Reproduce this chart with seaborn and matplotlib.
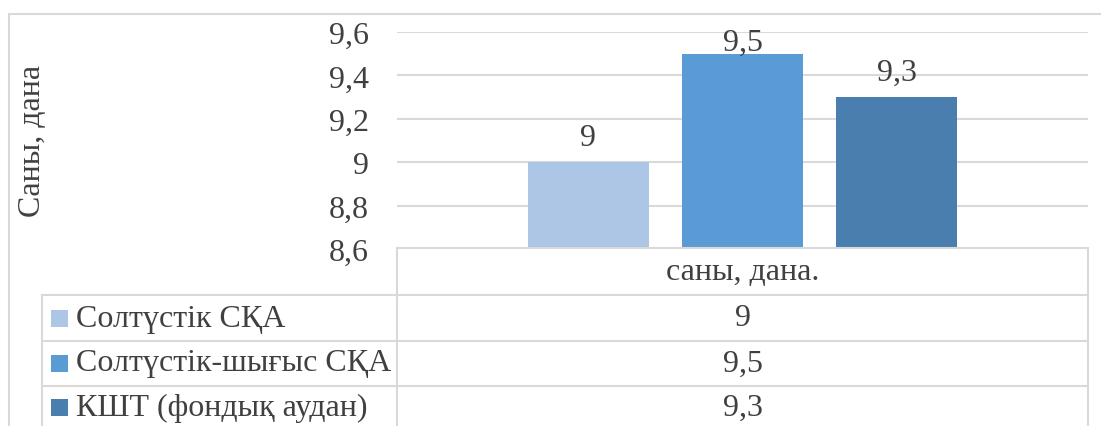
import matplotlib
matplotlib.use("Agg")
import matplotlib.pyplot as plt
from matplotlib.lines import Line2D
from matplotlib.patches import Rectangle
import matplotlib.transforms as mtransforms
import seaborn as sns
import pandas as pd

# ---- data ----
category = ["саны, дана."]
series = ["Солтүстік СҚА", "Солтүстік-шығыс СҚА", "КШТ (фондық аудан)"]
values = [9.0, 9.5, 9.3]
value_labels = ["9", "9,5", "9,3"]
yticks = [8.6, 8.8, 9.0, 9.2, 9.4, 9.6]
ytick_labels = ["8,6", "8,8", "9", "9,2", "9,4", "9,6"]
ylabel = "Саны, дана"
colors = ["#ADC6E5", "#5B9BD5", "#4A7EAF"]

W, H = 1101, 427
sns.set_theme(style="white")
plt.rcParams["font.family"] = ["Liberation Serif", "DejaVu Serif"]

fig = plt.figure(figsize=(W / 100, H / 100), dpi=100)

def fx(x):
    return x / W

def fy(y):
    return 1 - y / H

GRID = "#D9D9D9"
TXT = "#404040"
FS = 23

# main plot area
ax = fig.add_axes([fx(397), fy(250), fx(1088) - fx(397), fy(33) - fy(250)])
df = pd.DataFrame({"cat": category * len(series), "series": series, "value": values})
sns.barplot(data=df, x="cat", y="value", hue="series", palette=colors,
            width=0.67, gap=0.214, ax=ax, legend=False, saturation=1, linewidth=0)
ax.set_ylim(8.6, 9.6)
ax.set_xlim(-0.5, 0.5)
ax.set_yticks(yticks)
ax.set_yticklabels(ytick_labels, fontsize=FS, color=TXT)
ax.tick_params(axis="y", length=0, pad=20)
ax.set_xticks([])
ax.set_xlabel("")
ax.set_ylabel("")
for s in ax.spines.values():
    s.set_visible(False)
ax.yaxis.grid(True, color=GRID, linewidth=1.5)
ax.set_axisbelow(True)

# value labels: above bars, kept inside the chart area (like Excel)
fig.canvas.draw()
blend = mtransforms.blended_transform_factory(ax.transData, fig.transFigure)
for cont, lab in zip(ax.containers, value_labels):
    for p in cont.patches:
        top_disp = ax.transData.transform((0, p.get_height()))[1]
        top_px = H - top_disp  # pixel from top
        base_px = max(top_px - 17, 51)
        ax.text(p.get_x() + p.get_width() / 2, fy(base_px), lab, transform=blend,
                ha="center", va="baseline", fontsize=FS, color=TXT, clip_on=False)

# y label
fig.text(fx(33), fy(141), ylabel, rotation=90, ha="center", va="center",
         fontsize=FS, color=TXT)

# outer chart border
fig.add_artist(Rectangle((fx(9), fy(H + 5)), fx(W + 20) - fx(9), fy(15) - fy(H + 5),
                         transform=fig.transFigure, fill=False, edgecolor=GRID, linewidth=1.5))

def hline(y, x0, x1):
    fig.add_artist(Line2D([fx(x0), fx(x1)], [fy(y), fy(y)], transform=fig.transFigure,
                          color=GRID, linewidth=1.5))

def vline(x, y0, y1):
    fig.add_artist(Line2D([fx(x), fx(x)], [fy(y0), fy(y1)], transform=fig.transFigure,
                          color=GRID, linewidth=1.5))

# data table
hline(249, 397, 1088)
vline(397, 249, H + 5)
vline(1088, 249, H + 5)
vline(42, 296, H + 5)
row_lines = [296, 342, 387]
for y in row_lines:
    hline(y, 42, 1088)

fig.text(fx(743), fy(273), category[0], ha="center", va="center", fontsize=FS, color=TXT)
row_centers = [319, 364, 408]
for name, lab, col, yc in zip(series, value_labels, colors, row_centers):
    fig.add_artist(Rectangle((fx(51), fy(yc + 8.5)), fx(68) - fx(51), fy(yc - 8.5) - fy(yc + 8.5),
                             transform=fig.transFigure, facecolor=col, edgecolor="none"))
    fig.text(fx(76), fy(yc), name, ha="left", va="center", fontsize=FS, color=TXT)
    fig.text(fx(743), fy(yc), lab, ha="center", va="center", fontsize=FS, color=TXT)

fig.savefig("out.png", dpi=100)
